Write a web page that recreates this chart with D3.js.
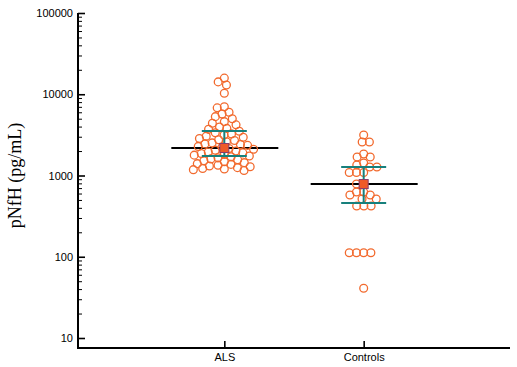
<!DOCTYPE html>
<html>
<head>
<meta charset="utf-8">
<script src="https://cdn.jsdelivr.net/npm/d3@7"></script>
<style>
  html, body { margin: 0; padding: 0; background: #fff; }
  svg { display: block; }
</style>
</head>
<body>
<script>
// ---- Data ----
const categories = ["ALS", "Controls"];
const alsValues = [15800, 14200, 13000, 10300,
  7000, 6800, 6000, 5700, 5300, 5000,
  4600, 4400, 4200, 3950, 3800, 3700,
  3500, 3350, 3250, 3150,
  3050, 2950, 2850, 2750, 2700,
  2600, 2520, 2450, 2400, 2350,
  2280, 2220, 2150, 2100, 2050, 2000,
  1950, 1900, 1860, 1820, 1780, 1740,
  1700, 1650, 1600, 1560, 1520, 1480,
  1440, 1400, 1370, 1340, 1310,
  1280, 1250, 1220, 1200, 1180, 1150];
const controlValues = [3150, 2580, 2580, 1840, 1690, 1690, 1425, 1345, 1273, 1273,
  1090, 1090, 1090, 785, 785, 627, 627, 576, 576, 514, 514,
  422, 422, 422, 112, 112, 112, 112, 41];
const seriesValues = [alsValues, controlValues];
const medians = [2180, 785];
const means = [2180, 785];
const errLow = [1740, 458];
const errHigh = [3530, 1274];
const yTickLabels = [10, 100, 1000, 10000, 100000];
const yMinorTicks = [];
[10, 100, 1000, 10000].forEach(b => { for (let k = 2; k <= 9; k++) yMinorTicks.push(b * k); });
const yTitle = "pNfH (pg/mL)";

// ---- Layout ----
const W = 517, H = 367;
const axisX = 78, axisTop = 13, axisBottomY = 348, axisRight = 510;

const svg = d3.select("body").append("svg").attr("width", W).attr("height", H);

const y = d3.scaleLog().domain([10, 100000]).range([338, 13]);
const x = d3.scalePoint().domain(categories).range([axisX, axisRight]).padding(1.05);

// Y axis major ticks
const yAxis = d3.axisLeft(y).tickValues(yTickLabels).tickFormat(d3.format("d"))
  .tickSizeInner(-7).tickSizeOuter(0).tickPadding(5);
const gy = svg.append("g").attr("transform", `translate(${axisX},0)`).call(yAxis);
gy.select(".domain").remove();
gy.selectAll(".tick line").attr("stroke", "#000").attr("stroke-width", 1.6);
gy.selectAll(".tick text").attr("font-family", "Liberation Sans, Arial, sans-serif")
  .attr("font-size", 11).attr("fill", "#000");

// Y minor ticks
const yMinor = d3.axisLeft(y).tickValues(yMinorTicks).tickFormat("")
  .tickSizeInner(-4).tickSizeOuter(0);
const gym = svg.append("g").attr("transform", `translate(${axisX},0)`).call(yMinor);
gym.select(".domain").remove();
gym.selectAll(".tick line").attr("stroke", "#000").attr("stroke-width", 1);

// X axis
const xAxis = d3.axisBottom(x).tickSizeInner(-7).tickSizeOuter(0).tickPadding(5);
const gx = svg.append("g").attr("transform", `translate(0,${axisBottomY})`).call(xAxis);
gx.select(".domain").remove();
gx.selectAll(".tick line").attr("stroke", "#000").attr("stroke-width", 1.6);
gx.selectAll(".tick text").attr("font-family", "Liberation Sans, Arial, sans-serif")
  .attr("font-size", 11).attr("fill", "#000");

// Axis lines
svg.append("path")
  .attr("d", `M${axisX},${axisTop}V${axisBottomY}H${axisRight}`)
  .attr("fill", "none").attr("stroke", "#000").attr("stroke-width", 2);

// Y title
svg.append("text")
  .attr("transform", `translate(21,${(axisTop + 338) / 2}) rotate(-90)`)
  .attr("text-anchor", "middle")
  .attr("font-family", "Liberation Serif, Times New Roman, serif")
  .attr("font-size", 18).attr("fill", "#000")
  .text(yTitle);

// Beeswarm layout
function swarm(values, cx, D) {
  const pts = values.map(v => ({ v, y: y(v) })).sort((a, b) => a.y - b.y);
  const placed = [];
  pts.forEach(p => {
    const cands = [cx];
    placed.forEach(q => {
      const dy = Math.abs(q.y - p.y);
      if (dy < D) {
        const dx = Math.sqrt(D * D - dy * dy);
        cands.push(q.x - dx - 0.01, q.x + dx + 0.01);
      }
    });
    cands.sort((a, b) => Math.abs(a - cx) - Math.abs(b - cx));
    for (const c of cands) {
      const ok = placed.every(q => (q.x - c) ** 2 + (q.y - p.y) ** 2 >= D * D - 0.001);
      if (ok) { p.x = c; break; }
    }
    placed.push(p);
  });
  return placed;
}

const r = 3.9, D = 7.2;

categories.forEach((cat, i) => {
  const cx = x(cat);
  const g = svg.append("g");
  // median line (black)
  g.append("line")
    .attr("x1", cx - 53).attr("x2", cx + 54)
    .attr("y1", y(medians[i])).attr("y2", y(medians[i]))
    .attr("stroke", "#000").attr("stroke-width", 2);
  // points
  const pts = swarm(seriesValues[i], cx, D);
  g.selectAll("circle").data(pts).join("circle")
    .attr("cx", d => d.x).attr("cy", d => d.y).attr("r", r)
    .attr("fill", "none").attr("stroke", "#f26a2e").attr("stroke-width", 1.3);
  // error bars (teal)
  const ew = 22.5;
  g.append("line").attr("x1", cx).attr("x2", cx)
    .attr("y1", y(errHigh[i])).attr("y2", y(errLow[i]))
    .attr("stroke", "#17807c").attr("stroke-width", 2);
  [errHigh[i], errLow[i]].forEach(v => {
    g.append("line").attr("x1", cx - ew).attr("x2", cx + ew)
      .attr("y1", y(v)).attr("y2", y(v))
      .attr("stroke", "#17807c").attr("stroke-width", 2);
  });
  // mean marker
  g.append("rect")
    .attr("x", cx - 4.5).attr("y", y(means[i]) - 4.5)
    .attr("width", 9).attr("height", 9)
    .attr("fill", "#ef5a28").attr("stroke", "#8e3b68").attr("stroke-width", 1);
});
</script>
</body>
</html>
